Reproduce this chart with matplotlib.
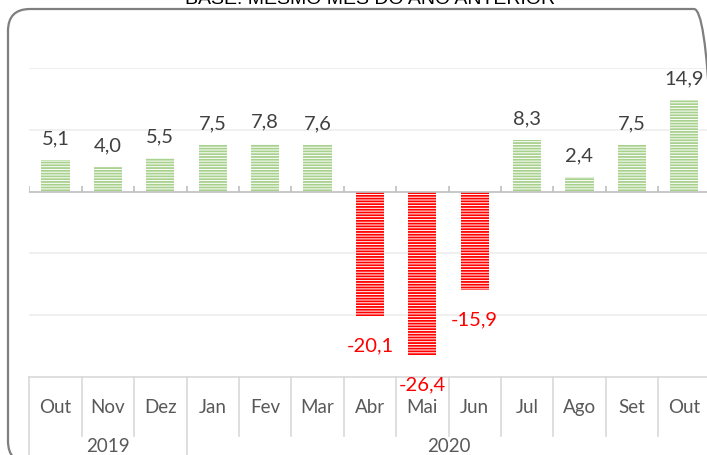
import numpy as np
import matplotlib
matplotlib.use("Agg")
import matplotlib.pyplot as plt
from matplotlib.patches import FancyBboxPatch
from matplotlib.transforms import IdentityTransform
import matplotlib.transforms as mtransforms

# data
months = ['Out', 'Nov', 'Dez', 'Jan', 'Fev', 'Mar', 'Abr', 'Mai', 'Jun', 'Jul', 'Ago', 'Set', 'Out']
years = ['2019', '2020']
year_spans = [(0, 3), (3, 13)]  # category index ranges for each year
values = [5.1, 4.0, 5.5, 7.5, 7.8, 7.6, -20.1, -26.4, -15.9, 8.3, 2.4, 7.5, 14.9]
title = 'BASE: MESMO MÊS DO ANO ANTERIOR'

plt.rcParams['font.family'] = ['Lato', 'DejaVu Sans']
plt.rcParams['hatch.linewidth'] = 1.3

W, H = 707, 456
fig = plt.figure(figsize=(W / 100, H / 100), dpi=100)

# rounded frame (pixel coords), partly outside the picture like the original
frame = FancyBboxPatch((8 + 22, -8 + 22), 708 - 44, 454 - (-8) - 44 - 8,
                       boxstyle='round,pad=22', transform=IdentityTransform(),
                       facecolor='none', edgecolor='#7f7f7f', linewidth=1.6)
fig.patches.append(frame)

# title sits mostly above the picture, only the bottom of the letters shows
fig.text(370 / W, 1 - 3.5 / H, title, ha='center', va='baseline', fontsize=14,
         family='Liberation Sans', color='black')

left, right = 29.3, 29.3 + 13 * 52.4
bottom, top = H - 377.8, H - 69.3
ax = fig.add_axes([left / W, bottom / H, (right - left) / W, (top - bottom) / H])
ax.set_xlim(-0.5, 12.5)
ax.set_ylim(-30, 20)
ax.axis('off')

x = np.arange(len(values))
for yv in [20, 10, -10, -20]:
    ax.axhline(yv, color='#eeeeee', lw=1.2, zorder=0)
ax.axhline(-30, color='#d9d9d9', lw=1.2, zorder=0, clip_on=False)

for xi, v in zip(x, values):
    c = '#a9d18e' if v >= 0 else '#ff0000'
    ax.bar(xi, v, width=0.54, facecolor='white', edgecolor=c, linewidth=0,
           hatch='------', zorder=2)
    label = '{:.1f}'.format(v).replace('.', ',')
    if v >= 0:
        ax.annotate(label, (xi, v), xytext=(0, 16), textcoords='offset points',
                    ha='center', va='center', fontsize=14.5, color='#404040')
    else:
        ax.annotate(label, (xi, v), xytext=(0, -21), textcoords='offset points',
                    ha='center', va='center', fontsize=14.5, color='#ff0000')

# zero line with small ticks at category borders
ax.axhline(0, color='#bfbfbf', lw=1.2, zorder=3)
ax.vlines(np.arange(-0.5, 13), 0, 1, color='#bfbfbf', lw=1.2, zorder=3)

# multi-level category axis
trans = mtransforms.blended_transform_factory(ax.transData, ax.transAxes)
ah = top - bottom
for xi, m in zip(x, months):
    ax.text(xi, -30 / ah, m, transform=trans, ha='center', va='center',
            fontsize=13.5, color='#595959')
borders = [s for s, e in year_spans] + [year_spans[-1][1]]
for b in range(14):
    low = -80 / ah if b in borders else -59 / ah
    ax.plot([b - 0.5, b - 0.5], [0, low], transform=trans, color='#d9d9d9',
            lw=1.2, clip_on=False)
for yr, (s, e) in zip(years, year_spans):
    ax.text((s + e - 1) / 2, -69 / ah, yr, transform=trans, ha='center',
            va='center', fontsize=13.5, color='#595959')

fig.savefig('out.png', dpi=100)
